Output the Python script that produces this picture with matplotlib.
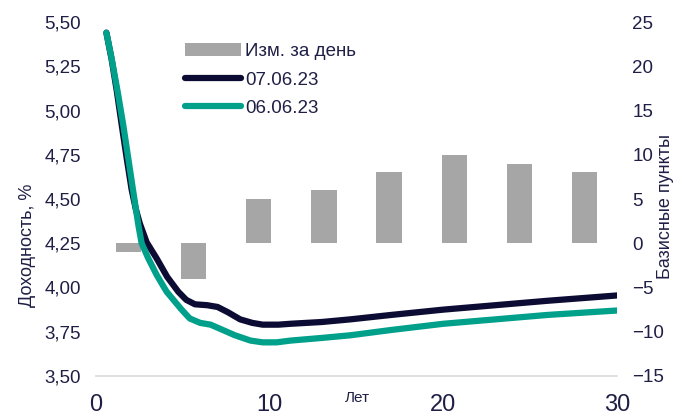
import numpy as np
import matplotlib.pyplot as plt

plt.rcParams['font.family'] = ['Liberation Sans', 'DejaVu Sans']

navy = '#0c0b34'
teal = '#00a08b'
grey = '#a6a6a6'
txt = '#1f1f46'

# yield curves (years, %)
yrs_07 = [0.6, 0.9, 1.2, 1.48, 1.77, 2.05, 2.3, 2.53, 2.92, 3.49, 4.1, 4.74, 5.2, 5.7, 6.4, 7.0,
          7.6, 8.3, 9.0, 9.6, 10.5, 11.2, 13, 14.65, 17, 20, 23, 26, 30]
yld_07 = [5.44, 5.29, 5.11, 4.92, 4.73, 4.555, 4.44, 4.36, 4.255, 4.165, 4.06, 3.976, 3.93, 3.905, 3.90, 3.89,
          3.86, 3.82, 3.80, 3.79, 3.79, 3.795, 3.805, 3.82, 3.845, 3.875, 3.90, 3.925, 3.955]
yrs_06 = [0.6, 0.9, 1.25, 1.57, 1.86, 2.15, 2.44, 2.63, 3.01, 3.5, 4.07, 4.46, 4.93, 5.4, 6.0, 6.6,
          7.3, 8.0, 8.9, 9.6, 10.4, 11.2, 13, 14.65, 17, 20, 23, 26, 30]
yld_06 = [5.44, 5.295, 5.106, 4.918, 4.73, 4.54, 4.353, 4.25, 4.165, 4.07, 3.976, 3.93, 3.875, 3.825, 3.80, 3.79,
          3.76, 3.73, 3.70, 3.69, 3.69, 3.70, 3.715, 3.73, 3.76, 3.795, 3.82, 3.845, 3.87]

# daily change, bp (8 evenly spaced categories)
chg = [-1, -4, 5, 6, 8, 10, 9, 8]

fig = plt.figure(figsize=(6.99, 4.16), dpi=100)
ax = fig.add_axes([0.1373, 0.0962, 0.7454, 0.8508])
ax2 = ax.twinx()

n = len(chg)
xpos = (np.arange(n) + 0.5) * 30 / n
bars = ax2.bar(xpos, chg, width=1.45, color=grey, label='Изм. за день')

l1, = ax.plot(yrs_07, yld_07, color=navy, lw=4.5, solid_capstyle='round', solid_joinstyle='round', label='07.06.23')
l2, = ax.plot(yrs_06, yld_06, color=teal, lw=4.5, solid_capstyle='round', solid_joinstyle='round', label='06.06.23')

ax.set_zorder(ax2.get_zorder() + 1)
ax.patch.set_visible(False)

ax.set_xlim(0, 30)
ax.set_ylim(3.5, 5.5)
ax2.set_ylim(-15, 25)
ax.set_xticks([0, 10, 20, 30])
yt = np.arange(3.5, 5.51, 0.25)
ax.set_yticks(yt)
ax.set_yticklabels([f'{v:.2f}'.replace('.', ',') for v in yt])
ax2.set_yticks(range(-15, 26, 5))

for a in (ax, ax2):
    for s in a.spines.values():
        s.set_visible(False)
ax.spines['bottom'].set_visible(True)
ax.spines['bottom'].set_color('#d9d9d9')
ax.spines['bottom'].set_linewidth(1.2)

ax.tick_params(axis='x', length=0, pad=13, labelsize=17, labelcolor=txt)
ax.tick_params(axis='y', length=0, pad=11, labelsize=13.5, labelcolor=txt)
ax2.tick_params(axis='y', length=0, pad=11, labelsize=13.5, labelcolor=txt)

ax.set_ylabel('Доходность, %', fontsize=13, color=txt)
ax.yaxis.set_label_coords(-0.115, 0.37)
ax2.set_ylabel('Базисные пункты', fontsize=13, color=txt)
ax2.yaxis.set_label_coords(1.077, 0.48)
ax.text(0.501, -0.062, 'Лет', transform=ax.transAxes, ha='center', va='center',
        fontsize=11, color=txt)

ax.legend([bars, l1, l2], ['Изм. за день', '07.06.23', '06.06.23'],
          loc='upper left', bbox_to_anchor=(0.153, 0.967), frameon=False,
          fontsize=13.5, handlelength=3.0, handletextpad=0.2, labelspacing=0.6,
          borderpad=0, labelcolor=txt)

fig.savefig('out.png', dpi=100)
